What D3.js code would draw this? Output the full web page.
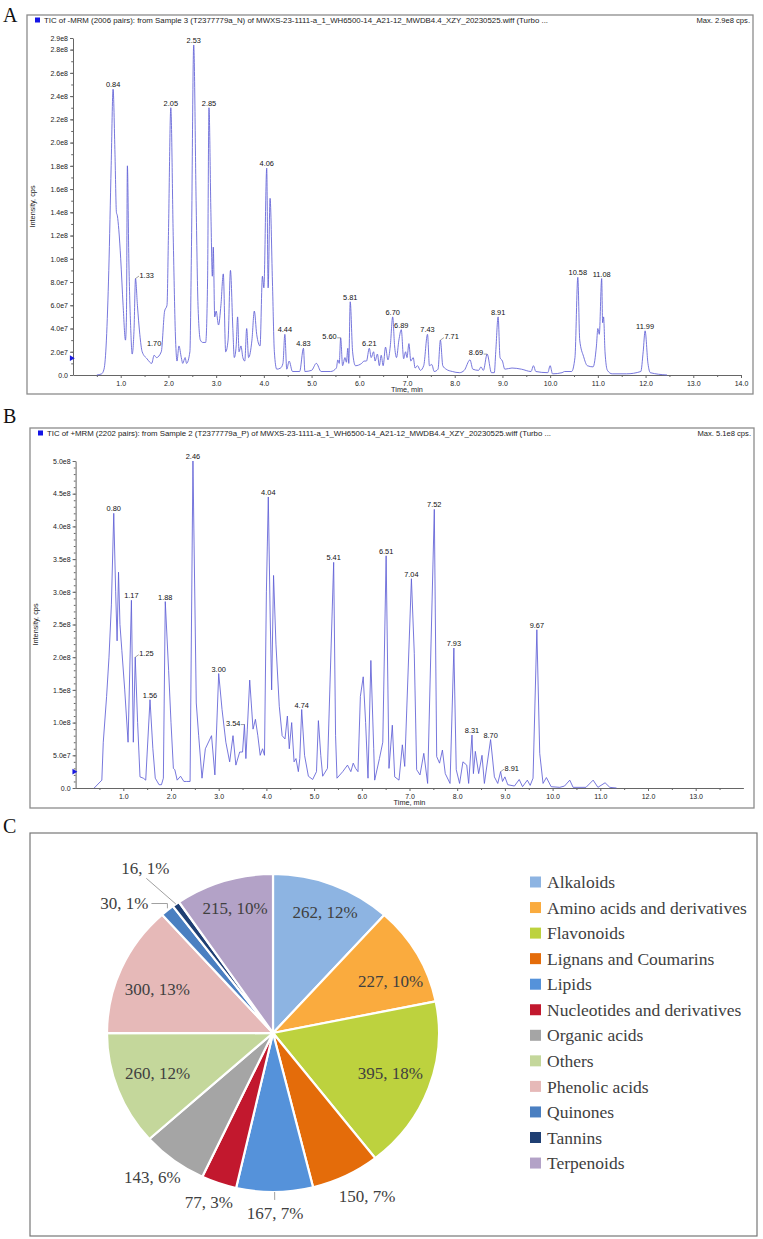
<!DOCTYPE html>
<html>
<head>
<meta charset="utf-8">
<script src="https://cdn.jsdelivr.net/npm/d3@7"></script>
<style>
  body { margin: 0; background: #fff; }
</style>
</head>
<body>
<script>
// ---------- data : panel A (negative mode TIC), intensity in units of 1e7 cps ----------
const timesA = [0.50,0.60,0.65,0.70,0.75,0.80,0.84,0.88,0.91,0.93,0.96,1.00,1.05,1.10,1.12,1.14,1.17,1.21,1.24,1.28,1.31,1.35,1.40,1.45,1.55,1.65,1.70,1.75,1.85,1.92,1.97,2.00,2.05,2.10,2.15,2.18,2.22,2.27,2.30,2.35,2.38,2.45,2.48,2.53,2.58,2.62,2.67,2.72,2.78,2.82,2.85,2.89,2.92,2.94,2.97,3.00,3.05,3.10,3.15,3.20,3.25,3.30,3.35,3.38,3.42,3.45,3.48,3.52,3.56,3.60,3.64,3.68,3.75,3.80,3.85,3.92,3.97,4.00,4.06,4.09,4.13,4.18,4.22,4.27,4.35,4.40,4.44,4.48,4.53,4.60,4.75,4.83,4.86,5.00,5.10,5.20,5.40,5.52,5.55,5.58,5.61,5.65,5.70,5.73,5.76,5.78,5.81,5.86,5.92,6.05,6.10,6.15,6.21,6.25,6.30,6.33,6.38,6.42,6.46,6.50,6.55,6.60,6.65,6.70,6.74,6.78,6.83,6.88,6.93,6.97,7.00,7.04,7.08,7.13,7.17,7.22,7.28,7.35,7.43,7.47,7.52,7.57,7.65,7.70,7.75,7.82,7.95,8.10,8.20,8.32,8.38,8.50,8.55,8.60,8.68,8.77,8.83,8.86,8.91,8.95,9.00,9.05,9.20,9.40,9.60,9.65,9.70,9.95,10.00,10.05,10.25,10.30,10.45,10.52,10.58,10.62,10.70,10.78,10.90,10.97,11.00,11.03,11.08,11.10,11.12,11.15,11.20,11.30,11.60,11.90,11.95,11.99,12.05,12.10,12.45];
const intA   = [0,0.1,0.5,3,9,18,24.6,19,14,13.7,12.5,10,6,3,5,18,10,4,1.8,4,8.3,6,3.5,2,1.4,1.0,1.7,1.5,2,5.5,6,12,23,12,3,1.2,2.5,1.5,1,1.5,1,2,10,28.4,15,6,3,2.8,2.8,8,23,14,8.5,11,5,5.5,4.3,6,8.7,2,3,9,4,1.5,2.5,5,2,2.5,1.5,1.2,4,1.5,3,5.5,3.5,2.5,8.5,7.5,17.8,7.5,15.2,8,2,0.5,0.6,1,3.5,0.5,1.2,0.3,0.3,2.3,0.3,0.4,1.0,0.3,0.3,0.6,1.3,1,3.2,0.8,1.5,1.1,2.3,1,6.3,2,0.8,1,1.2,1.2,2.3,1.5,2,1.2,1.8,0.8,1.7,0.8,2.4,1.3,2.5,5.0,2.5,1.5,3,3.9,1.4,2,1.5,2.7,1.2,1.5,0.6,0.8,0.4,0.8,3.5,0.8,0.9,0.3,0.5,3.0,0.8,0.5,0.3,0.2,0.4,1.3,0.5,0.4,0.7,0.4,1.8,0.2,0.2,2,5.0,1.5,1.2,0.5,0.6,0.5,0.3,0.8,0.3,0.2,0.8,0.1,0.2,0.3,0.3,1.5,8.4,3,1.6,0.8,0.7,2.5,4,3.5,8.3,4.5,5,2,0.4,0.1,0.1,0.3,2,3.8,1.0,0.2,0];
const peakTA  = [0.84,1.31,1.70,2.05,2.53,2.85,4.06,4.44,4.83,5.61,5.81,6.21,6.70,6.88,7.43,7.70,8.68,8.91,10.58,11.08,11.99];
const peakIA  = [24.6,8.3,2.3,23,28.4,23,17.8,3.5,2.3,3.2,6.3,2.3,5.0,3.9,3.5,3.0,1.8,5.0,8.4,8.3,3.8];
const peakTxtA = ["0.84","1.33","1.70","2.05","2.53","2.85","4.06","4.44","4.83","5.60","5.81","6.21","6.70","6.89","7.43","7.71","8.69","8.91","10.58","11.08","11.99"];
const yTicksA = [0,2,4,6,8,10,12,14,16,18,20,22,24,26,28,29];
const xTicksA = [1,2,3,4,5,6,7,8,9,10,11,12,13,14];

// ---------- data : panel B (positive mode TIC), intensity in units of 1e7 cps ----------
const timesB = [0.39,0.55,0.58,0.65,0.70,0.75,0.80,0.84,0.87,0.90,0.93,0.97,1.03,1.10,1.17,1.21,1.25,1.30,1.35,1.42,1.47,1.56,1.62,1.67,1.75,1.80,1.84,1.88,1.95,2.00,2.05,2.08,2.13,2.20,2.27,2.33,2.40,2.46,2.53,2.58,2.65,2.72,2.85,2.92,3.00,3.07,3.15,3.23,3.30,3.36,3.44,3.50,3.54,3.57,3.60,3.65,3.72,3.77,3.82,3.87,3.92,3.96,4.00,4.04,4.08,4.11,4.15,4.20,4.27,4.33,4.39,4.44,4.48,4.53,4.58,4.62,4.67,4.70,4.74,4.80,4.88,4.97,5.05,5.09,5.14,5.18,5.28,5.41,5.45,5.48,5.60,5.70,5.77,5.82,5.87,5.92,5.97,6.03,6.08,6.13,6.19,6.25,6.27,6.37,6.44,6.51,6.57,6.64,6.69,6.78,6.85,6.90,7.04,7.10,7.15,7.22,7.30,7.38,7.52,7.57,7.63,7.69,7.75,7.85,7.93,7.98,8.05,8.12,8.20,8.24,8.31,8.34,8.38,8.45,8.52,8.57,8.70,8.78,8.85,8.91,8.95,9.00,9.06,9.20,9.30,9.37,9.47,9.53,9.59,9.67,9.73,9.80,9.87,9.97,10.15,10.25,10.36,10.43,10.70,10.85,10.95,11.10,11.20,11.34];
const intB   = [0,1.2,7,14,20,28,42,30,22.5,33,25,21,15,7,28.7,7,20,10,1.7,1.5,1.2,13.5,6,1.5,0.5,0.5,1.5,28.5,18,10,3,2.8,1.2,1.8,1,1,1,50,13,8,1.5,6,8,2,17.5,12,7,4,8,3.5,5.5,5.5,9.7,4.5,9,16.5,9,10.5,8,5,6,5,30,44.5,26,15,32.5,22,12.5,8,7.5,11,6,10,4,4.5,2.5,4.5,12,5,1.8,1.3,2.5,10.3,5,1.8,3,34.5,8,1.5,2.5,3.5,2.5,3.8,3,2.5,14,17,10,1.5,19.5,6,1.2,4.5,7,35.5,3,9.6,1.7,1.2,6.6,3.3,32,20.6,2.8,2,5.3,0.7,42.6,4.8,3.8,5.8,2.2,0.7,21.4,2.8,0.7,4,3.5,0.7,8.1,2.2,5.6,2.2,5,0.7,7.4,1.7,0.7,2.5,1,1.7,0.5,0.3,1.3,0.2,1.2,0.4,1.5,24.2,5.3,0.7,1.6,0.2,0.1,0.3,1.2,0.1,0.1,1.2,0.1,0.8,0.1,0];
const peakTB  = [0.80,1.17,1.25,1.56,1.88,2.46,3.00,3.54,4.04,4.74,5.41,6.51,7.04,7.52,7.93,8.31,8.70,8.91,9.67];
const peakIB  = [42,28.7,20,13.5,28.5,50,17.5,9.7,44.5,12,34.5,35.5,32,42.6,21.4,8.1,7.4,2.5,24.2];
const peakTxtB = ["0.80","1.17","1.25","1.56","1.88","2.46","3.00","3.54","4.04","4.74","5.41","6.51","7.04","7.52","7.93","8.31","8.70","8.91","9.67"];
const yTicksB = [0,5,10,15,20,25,30,35,40,45,50];
const xTicksB = [1,2,3,4,5,6,7,8,9,10,11,12,13];

// ---------- data : panel C (metabolite classes) ----------
const classes = ["Alkaloids","Amino acids and derivatives","Flavonoids","Lignans and Coumarins","Lipids","Nucleotides and derivatives","Organic acids","Others","Phenolic acids","Quinones","Tannins","Terpenoids"];
const counts  = [262,227,395,150,167,77,143,260,300,30,16,215];
const colors  = ["#8db4e2","#faab3e","#bdd23e","#e46c0a","#5592da","#c2182e","#a5a5a5","#c4d79b","#e6b9b8","#4a7fc1","#1f3f73","#b3a2c7"];

// label placement for pie (angle in degrees from 12 o'clock, radial factor)
const pieLabelPos = [[22.5,0.82],[65.2,0.78],[109.5,0.75],[151,1.17],[179.4,1.13],[200,1.13],[218.8,1.16],[249.9,0.74],[291.6,0.75],[312.3,1.21],[323.4,1.29],[343.8,0.82]];
// label side for chromatogram peaks
const sideA = {"1.33":"right","5.60":"left","7.71":"right","8.69":"left"};
const sideB = {"1.25":"right","3.54":"left","8.91":"right"};

const SANS = "Liberation Sans, Arial, sans-serif";
const SERIF = "Liberation Serif, Times New Roman, serif";

const svg = d3.select("body").append("svg")
  .attr("width", 763).attr("height", 1239)
  .attr("font-family", SANS);

const fmtE = v => v === 0 ? "0.0" : (v * 1e7).toExponential(1).replace("e+", "e");

function panelLetter(txt, x, y) {
  svg.append("text").attr("x", x).attr("y", y)
    .attr("font-family", SERIF)
    .attr("font-size", 20).attr("fill", "#111").text(txt);
}

function drawTIC(o) {
  const g = svg.append("g");
  // frame
  g.append("rect").attr("x", o.frame[0]).attr("y", o.frame[1])
    .attr("width", o.frame[2]).attr("height", o.frame[3])
    .attr("fill", "none").attr("stroke", "#8c8c8c").attr("stroke-width", 1.3);
  // header
  g.append("rect").attr("x", o.frame[0] + 8).attr("y", o.frame[1] + 2.5)
    .attr("width", 5).attr("height", 5).attr("fill", "#1414e6");
  g.append("text").attr("x", o.frame[0] + 17).attr("y", o.frame[1] + 8)
    .attr("font-size", 7.6).attr("fill", "#222")
    .attr("textLength", o.titleLen).attr("lengthAdjust", "spacingAndGlyphs")
    .text(o.title);
  g.append("text").attr("x", o.frame[0] + o.frame[2] - 3).attr("y", o.frame[1] + 8)
    .attr("font-size", 7.6).attr("fill", "#222").attr("text-anchor", "end")
    .text(o.maxText);

  const x = d3.scaleLinear().domain([0, 14]).range(o.xr);
  const y = d3.scaleLinear().domain(o.yd).range(o.yr);

  // minor ticks
  const minorX = d3.range(0.5, 14.01, 0.5).filter(v => v % 1 !== 0);
  g.append("g").attr("transform", `translate(0,${o.yr[0]})`)
    .call(d3.axisBottom(x).tickValues(minorX).tickSize(2).tickFormat("").tickSizeOuter(0))
    .call(a => a.select(".domain").remove())
    .call(a => a.selectAll("line").attr("stroke", "#666"));
  g.append("g").attr("transform", `translate(${o.xr[0]},0)`)
    .call(d3.axisLeft(y).tickValues(d3.range(o.yd[0], o.yd[1] + 0.01, o.minorY)).tickSize(1.8).tickFormat("").tickSizeOuter(0))
    .call(a => a.select(".domain").remove())
    .call(a => a.selectAll("line").attr("stroke", "#666"));

  // axes
  const xAxis = d3.axisBottom(x).tickValues(o.xTicks).tickFormat(d3.format(".1f"))
    .tickSize(3).tickSizeOuter(0).tickPadding(3);
  g.append("g").attr("transform", `translate(0,${o.yr[0]})`).call(xAxis)
    .call(a => a.attr("font-family", null).attr("font-size", 7))
    .call(a => a.selectAll("text").attr("fill", "#222"))
    .call(a => a.selectAll("line, .domain").attr("stroke", "#666"));
  const yAxis = d3.axisLeft(y).tickValues(o.yTicks).tickFormat(fmtE)
    .tickSize(3).tickSizeOuter(0).tickPadding(2);
  g.append("g").attr("transform", `translate(${o.xr[0]},0)`).call(yAxis)
    .call(a => a.attr("font-family", null).attr("font-size", 7))
    .call(a => a.selectAll("text").attr("fill", "#222"))
    .call(a => a.selectAll("line, .domain").attr("stroke", "#666"));

  // axis titles
  g.append("text").attr("x", (o.xr[0] + o.xr[1]) / 2).attr("y", o.yr[0] + 17)
    .attr("font-size", 7.3).attr("text-anchor", "middle").attr("fill", "#222")
    .text("Time, min");
  g.append("text")
    .attr("transform", `translate(${o.ylabX},${(o.yr[0] + o.yr[1]) / 2}) rotate(-90)`)
    .attr("font-size", 7.3).attr("text-anchor", "middle").attr("fill", "#222")
    .text("Intensity, cps");

  // threshold marker
  g.append("path")
    .attr("d", d3.symbol(d3.symbolTriangle, 14)())
    .attr("transform", `translate(${o.xr[0] - 1.5},${y(o.marker)}) rotate(90)`)
    .attr("fill", "#1a1ae0");

  // trace
  const pts = o.t.map((t, i) => [t, o.v[i]]);
  const line = d3.line().x(d => x(d[0])).y(d => y(d[1])).curve(o.curve);
  g.append("path").datum(pts)
    .attr("fill", "none").attr("stroke", "#5f5fd6").attr("stroke-width", 0.85)
    .attr("stroke-linejoin", "round").attr("d", line);

  // peak labels
  o.pt.forEach((t, i) => {
    const txt = o.ptxt[i];
    const px = x(t), py = y(o.pi[i]);
    const side = o.side[txt] || "top";
    const lab = g.append("text").attr("font-size", 7.4).attr("fill", "#111").text(txt);
    if (side === "top") {
      lab.attr("x", px).attr("y", py - 2).attr("text-anchor", "middle");
    } else if (side === "right") {
      lab.attr("x", px + 4).attr("y", py - 1).attr("text-anchor", "start");
      g.append("line").attr("x1", px).attr("y1", py).attr("x2", px + 3.5).attr("y2", py - 2.5)
        .attr("stroke", "#444").attr("stroke-width", 0.5);
    } else {
      lab.attr("x", px - 4).attr("y", py + 1).attr("text-anchor", "end");
      g.append("line").attr("x1", px).attr("y1", py).attr("x2", px - 3.5).attr("y2", py)
        .attr("stroke", "#444").attr("stroke-width", 0.5);
    }
  });
}

panelLetter("A", 3, 22);
drawTIC({
  frame: [27, 15, 726, 379],
  title: "TIC of -MRM (2006 pairs): from Sample 3 (T2377779a_N) of MWXS-23-1111-a_1_WH6500-14_A21-12_MWDB4.4_XZY_20230525.wiff (Turbo ...",
  titleLen: 504,
  maxText: "Max. 2.9e8 cps.",
  xr: [73, 741], yd: [0, 29], yr: [375, 38], minorY: 1,
  xTicks: xTicksA, yTicks: yTicksA, ylabX: 35, marker: 1.45,
  t: timesA, v: intA, curve: d3.curveMonotoneX,
  pt: peakTA, pi: peakIA, ptxt: peakTxtA, side: sideA
});

panelLetter("B", 3, 423);
drawTIC({
  frame: [30, 428, 724, 380],
  title: "TIC of +MRM (2202 pairs): from Sample 2 (T2377779a_P) of MWXS-23-1111-a_1_WH6500-14_A21-12_MWDB4.4_XZY_20230525.wiff (Turbo ...",
  titleLen: 504,
  maxText: "Max. 5.1e8 cps.",
  xr: [75.6, 743.4], yd: [0, 50], yr: [788, 461], minorY: 1,
  xTicks: xTicksB, yTicks: yTicksB, ylabX: 38, marker: 2.5,
  t: timesB, v: intB, curve: d3.curveLinear,
  pt: peakTB, pi: peakIB, ptxt: peakTxtB, side: sideB
});

// ---------- panel C : pie ----------
panelLetter("C", 3, 833);
svg.append("rect").attr("x", 30).attr("y", 833).attr("width", 727).attr("height", 403)
  .attr("fill", "none").attr("stroke", "#777").attr("stroke-width", 1.2);

const cx = 273, cy = 1033, ry = 159, rx = 166;
const total = d3.sum(counts);
const pie = d3.pie().sort(null).value(d => d)(counts);
const arc = d3.arc().innerRadius(0).outerRadius(ry);

svg.append("g")
  .attr("transform", `translate(${cx},${cy}) scale(${rx / ry},1)`)
  .selectAll("path").data(pie).join("path")
  .attr("d", arc)
  .attr("fill", (d, i) => colors[i])
  .attr("stroke", "#fff").attr("stroke-width", 2.2)
  .attr("vector-effect", "non-scaling-stroke");

const polar = (deg, f) => {
  const a = deg * Math.PI / 180;
  return [cx + f * rx * Math.sin(a), cy - f * ry * Math.cos(a)];
};
const midDeg = d => (d.startAngle + d.endAngle) / 2 * 180 / Math.PI;

const labG = svg.append("g")
  .attr("font-family", SERIF)
  .attr("font-size", 17).attr("fill", "#404040");
pie.forEach((d, i) => {
  const p = polar(pieLabelPos[i][0], pieLabelPos[i][1]);
  labG.append("text").attr("x", p[0]).attr("y", p[1]).attr("dy", "0.35em")
    .attr("text-anchor", "middle")
    .text(`${counts[i]}, ${Math.round(counts[i] / total * 100)}%`);
});

// leader lines for the small / outside labels
const leadG = svg.append("g").attr("fill", "none").attr("stroke", "#a0a0a0").attr("stroke-width", 1);
{
  const iLip = classes.indexOf("Lipids");
  const a = polar(midDeg(pie[iLip]), 1.0), b = polar(midDeg(pie[iLip]), 1.05);
  leadG.append("line").attr("x1", a[0]).attr("y1", a[1]).attr("x2", b[0]).attr("y2", b[1]);

  const iTan = classes.indexOf("Tannins");
  const t0 = polar(midDeg(pie[iTan]), 1.0);
  const tl = polar(pieLabelPos[iTan][0], pieLabelPos[iTan][1]);
  leadG.append("line").attr("x1", t0[0]).attr("y1", t0[1]).attr("x2", tl[0] + 1).attr("y2", tl[1] + 10);

  const iQ = classes.indexOf("Quinones");
  const q0 = polar(midDeg(pie[iQ]), 1.0);
  const ql = polar(pieLabelPos[iQ][0], pieLabelPos[iQ][1]);
  leadG.append("path").attr("d", `M${ql[0] + 27},${ql[1]} L${q0[0]},${ql[1]} L${q0[0]},${q0[1] - 2}`);
}

// legend
const leg = svg.append("g")
  .attr("font-family", SERIF)
  .attr("font-size", 17.5).attr("fill", "#404040");
classes.forEach((c, i) => {
  const yy = 882 + i * 25.55;
  leg.append("rect").attr("x", 530).attr("y", yy - 5.5).attr("width", 11).attr("height", 11)
    .attr("fill", colors[i]);
  leg.append("text").attr("x", 547).attr("y", yy).attr("dy", "0.35em").text(c);
});
</script>
</body>
</html>
